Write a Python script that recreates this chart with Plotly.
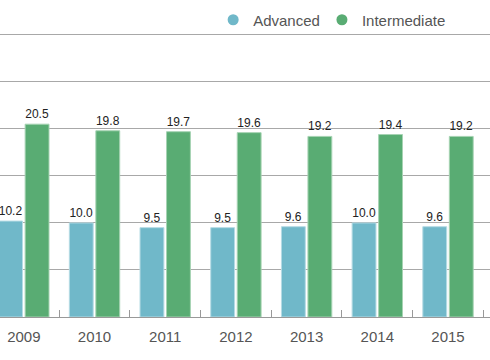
import plotly.graph_objects as go

years = ["2009", "2010", "2011", "2012", "2013", "2014", "2015"]
advanced = [10.2, 10.0, 9.5, 9.5, 9.6, 10.0, 9.6]
intermediate = [20.5, 19.8, 19.7, 19.6, 19.2, 19.4, 19.2]

blue = "#70B8C9"
green = "#59AC73"
font_family = "Liberation Sans, Arial, Helvetica, sans-serif"

fig = go.Figure()
fig.add_trace(go.Bar(
    x=years, y=advanced, name="Advanced", showlegend=False,
    marker=dict(color=blue, line=dict(color="#B5DBE4", width=1)),
    texttemplate="%{y:.1f}", textposition="outside",
    textfont=dict(size=12, color="#222222", family=font_family),
))
fig.add_trace(go.Bar(
    x=years, y=intermediate, name="Intermediate", showlegend=False,
    marker=dict(color=green, line=dict(color="#A6D3B3", width=1)),
    texttemplate="%{y:.1f}", textposition="outside",
    textfont=dict(size=12, color="#222222", family=font_family),
))
# legend entries with round markers (one legend box each, for exact spacing)
for name, col, leg in [("Advanced", blue, "legend"), ("Intermediate", green, "legend2")]:
    fig.add_trace(go.Scatter(
        x=[None], y=[None], mode="markers", name=name, legend=leg,
        marker=dict(symbol="circle", size=11, color=col),
    ))

legend_common = dict(
    orientation="h", xanchor="left",
    yref="container", y=1 - 20 / 360, yanchor="middle",
    font=dict(size=15, color="#555555"),
    bgcolor="rgba(0,0,0,0)",
)

fig.update_layout(
    width=490, height=360,
    margin=dict(l=0, r=0, t=32, b=43, autoexpand=False),
    paper_bgcolor="white", plot_bgcolor="white",
    barmode="group", bargap=0.25, bargroupgap=0.1,
    font=dict(family=font_family, size=15, color="#555555"),
    showlegend=True,
    legend=dict(x=0.435, **legend_common),
    legend2=dict(x=0.657, **legend_common),
)
fig.update_xaxes(
    type="category", range=[-0.337, 6.594], autorange=False,
    tickson="boundaries", ticks="inside", ticklen=7, tickcolor="#999999",
    showline=True, linecolor="#999999", linewidth=1,
    showgrid=False, ticklabelstandoff=6,
    tickfont=dict(size=15, color="#555555"),
)
fig.update_yaxes(
    range=[0, 30.3], autorange=False, dtick=5, showticklabels=False,
    showgrid=True, gridcolor="#A8A8A8", gridwidth=1,
    zeroline=False, showline=False, ticks="",
)

fig.write_html(
    "out.html",
    config={"displayModeBar": False},
    post_script="document.body.style.margin='0';document.body.style.overflow='hidden';",
)
